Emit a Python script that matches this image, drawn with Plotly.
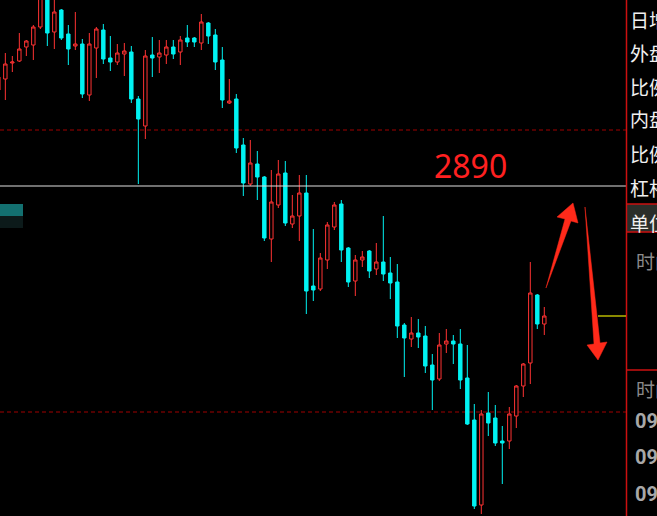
import plotly.graph_objects as go

# ---------------- data (prices) ----------------
candle_index = list(range(79))
open_ = [2909.2, 2911.4, 2914.6, 2915.0, 2917.8, 2918.2, 2921.8, 2929.6, 2920.8, 2925.2,
         2920.4, 2918.0, 2918.4, 2908.2, 2917.6, 2921.2, 2915.6, 2914.8, 2916.4, 2916.8,
         2907.4, 2902.0, 2916.2, 2915.8, 2916.2, 2917.8, 2916.8, 2919.6, 2919.6, 2918.6,
         2922.6, 2920.2, 2915.2, 2906.6, 2907.4, 2898.2, 2890.4, 2894.4, 2891.8, 2879.4,
         2886.2, 2892.6, 2882.4, 2884.0, 2888.6, 2870.0, 2869.4, 2875.2, 2881.8, 2886.4,
         2877.6, 2871.0, 2875.2, 2877.0, 2873.4, 2874.8, 2872.6, 2870.8, 2862.2, 2859.4,
         2860.6, 2860.0, 2854.2, 2851.4, 2858.4, 2859.0, 2858.4, 2851.6, 2843.2, 2826.2,
         2844.6, 2843.6, 2839.0, 2839.0, 2844.0, 2850.0, 2854.6, 2868.2, 2862.4]
high_ = [2913.2, 2916.6, 2916.0, 2920.6, 2919.2, 2922.2, 2931.2, 2930.8, 2928.2, 2925.4,
         2922.2, 2924.8, 2919.4, 2920.6, 2921.8, 2922.4, 2920.0, 2918.4, 2918.6, 2918.0,
         2908.0, 2917.2, 2919.8, 2919.2, 2919.2, 2919.2, 2920.0, 2922.2, 2919.8, 2924.4,
         2922.8, 2921.4, 2917.8, 2911.4, 2908.4, 2899.6, 2899.2, 2897.0, 2892.0, 2893.2,
         2895.2, 2895.0, 2888.2, 2892.2, 2892.2, 2881.4, 2876.6, 2882.8, 2886.8, 2887.2,
         2877.8, 2876.2, 2877.0, 2877.2, 2878.6, 2884.0, 2875.8, 2874.4, 2862.6, 2863.8,
         2863.4, 2862.0, 2856.4, 2860.6, 2861.4, 2860.2, 2861.4, 2858.2, 2846.4, 2845.2,
         2848.8, 2846.2, 2842.0, 2845.8, 2850.2, 2854.6, 2874.8, 2868.4, 2865.8]
low_ = [2908.2, 2907.2, 2912.8, 2914.8, 2916.0, 2915.2, 2921.4, 2918.0, 2917.4, 2919.2,
        2914.2, 2917.2, 2907.6, 2907.0, 2911.6, 2914.4, 2913.0, 2914.2, 2912.0, 2906.6,
        2890.4, 2899.4, 2911.8, 2912.6, 2914.4, 2915.4, 2914.2, 2917.8, 2917.8, 2917.2,
        2918.4, 2913.2, 2905.6, 2906.4, 2896.6, 2888.0, 2890.0, 2887.2, 2879.0, 2874.8,
        2885.6, 2882.0, 2881.6, 2879.0, 2864.4, 2867.0, 2869.0, 2873.4, 2881.2, 2874.8,
        2869.8, 2868.0, 2873.8, 2871.6, 2872.2, 2871.0, 2867.4, 2859.6, 2851.8, 2857.8,
        2857.6, 2852.6, 2845.2, 2851.0, 2856.6, 2854.4, 2849.4, 2842.2, 2825.4, 2824.4,
        2840.0, 2838.0, 2830.4, 2837.4, 2841.6, 2847.8, 2850.4, 2861.4, 2860.2]
close_ = [2911.8, 2914.4, 2914.8, 2917.4, 2919.0, 2921.8, 2930.2, 2920.6, 2924.8, 2919.6,
          2917.4, 2918.4, 2908.4, 2918.4, 2921.4, 2915.4, 2914.8, 2916.6, 2917.0, 2907.4,
          2903.4, 2916.0, 2915.6, 2916.6, 2917.8, 2916.4, 2919.2, 2918.8, 2918.8, 2922.8,
          2920.0, 2914.8, 2907.2, 2907.0, 2897.6, 2890.6, 2894.6, 2891.8, 2879.6, 2886.8,
          2892.4, 2882.6, 2884.0, 2888.6, 2869.0, 2869.2, 2875.6, 2882.2, 2886.2, 2877.2,
          2870.8, 2875.2, 2875.8, 2873.0, 2874.8, 2872.4, 2870.6, 2862.0, 2859.6, 2860.6,
          2859.8, 2854.0, 2851.2, 2858.2, 2859.0, 2858.4, 2851.2, 2842.4, 2826.0, 2844.4,
          2842.6, 2838.6, 2838.6, 2844.4, 2850.0, 2854.4, 2868.6, 2862.4, 2864.0]

level_price = 2890
dashed_levels = [2901.2, 2844.8]
panel_labels = ["日增", "外盘", "比例", "内盘", "比例", "杠杆"]
unit_label = "单位"
time_label = "时间"
time_rows = ["09:00", "09:00", "09:00"]

# ---------------- figure ----------------
W, H = 657, 516
PW = 626  # width of the candle area in px


def X(px):
    return px / W


def Y(py):
    return 1 - py / H


fig = go.Figure()
fig.add_trace(go.Candlestick(
    x=candle_index, open=open_, high=high_, low=low_, close=close_,
    increasing=dict(line=dict(color="#ff3333", width=1), fillcolor="#000000"),
    decreasing=dict(line=dict(color="#00f2f2", width=1), fillcolor="#00f2f2"),
    whiskerwidth=0, hoverinfo="skip", showlegend=False,
))

shapes = []
# dashed dark-red levels
for lv in dashed_levels:
    shapes.append(dict(type="line", xref="paper", yref="y", x0=0, x1=X(PW), y0=lv, y1=lv,
                       line=dict(color="#a00000", width=1, dash="4px,3px"), layer="below"))
# white level line
shapes.append(dict(type="line", xref="paper", yref="y", x0=0, x1=X(PW), y0=level_price, y1=level_price,
                   line=dict(color="#e0e0e0", width=1.2)))
# right panel
shapes.append(dict(type="rect", xref="paper", yref="paper", x0=X(626.5), x1=1.01, y0=Y(232), y1=Y(204),
                   fillcolor="#2a2e2a", line=dict(width=0)))
shapes.append(dict(type="line", xref="paper", yref="paper", x0=X(626.5), x1=X(626.5), y0=0, y1=1,
                   line=dict(color="#cc1010", width=1.5)))
for py in [204, 232, 370]:
    shapes.append(dict(type="line", xref="paper", yref="paper", x0=X(626.5), x1=1.01, y0=Y(py), y1=Y(py),
                       line=dict(color="#cc1010", width=1.5)))
# yellow line
shapes.append(dict(type="line", xref="paper", yref="paper", x0=X(598), x1=X(626), y0=Y(316), y1=Y(316),
                   line=dict(color="#e6e600", width=1.2)))
# teal remnant at left
shapes.append(dict(type="rect", xref="paper", yref="paper", x0=0, x1=X(23), y0=Y(216), y1=Y(204),
                   fillcolor="#137070", line=dict(width=0)))
shapes.append(dict(type="rect", xref="paper", yref="paper", x0=0, x1=X(23), y0=Y(228), y1=Y(216),
                   fillcolor="#0c1a1a", line=dict(width=0)))


def poly(points):
    return "M " + " L ".join(f"{X(a):.5f},{Y(b):.5f}" for a, b in points) + " Z"


# hand-drawn red arrows
arrow_up = [(546, 288), (565, 219), (557, 217), (573, 203), (578, 223), (571, 221)]
arrow_down = [(585, 207), (594, 344), (587, 345), (598, 360), (607, 342), (600, 343)]
for pts in (arrow_up, arrow_down):
    shapes.append(dict(type="path", xref="paper", yref="paper", path=poly(pts),
                       fillcolor="#ff2a1a", line=dict(color="#ff2a1a", width=0.5)))

annotations = [dict(text=str(level_price), xref="paper", yref="paper", x=X(470), y=Y(165),
                    xanchor="center", yanchor="middle", showarrow=False,
                    font=dict(family="Noto Sans", size=32, color="#ff2020"))]
label_y = [20, 53, 87, 119, 153, 187]
for lab, py in zip(panel_labels, label_y):
    annotations.append(dict(text=lab, xref="paper", yref="paper", x=X(628), y=Y(py),
                            xanchor="left", yanchor="middle", showarrow=False,
                            font=dict(family="Noto Sans CJK SC", size=19, color="#f0f0f0")))
annotations.append(dict(text=unit_label, xref="paper", yref="paper", x=X(628), y=Y(222),
                        xanchor="left", yanchor="middle", showarrow=False,
                        font=dict(family="Noto Sans CJK SC", size=19, color="#f0f0f0")))
for py in [260, 388]:
    annotations.append(dict(text=time_label, xref="paper", yref="paper", x=X(634), y=Y(py),
                            xanchor="left", yanchor="middle", showarrow=False,
                            font=dict(family="Noto Sans CJK SC", size=19, color="#8a8a8a")))
for lab, py in zip(time_rows, [421, 457, 494]):
    annotations.append(dict(text=f"<b>{lab}</b>", xref="paper", yref="paper", x=X(633), y=Y(py),
                            xanchor="left", yanchor="middle", showarrow=False,
                            font=dict(family="Roboto", size=20, color="#a8a8a8")))

fig.update_layout(
    width=W, height=H, margin=dict(l=0, r=0, t=0, b=0, pad=0),
    paper_bgcolor="#000000", plot_bgcolor="#000000",
    xaxis=dict(range=[0.2386, 89.67], domain=[0, X(PW)], visible=False,
               rangeslider=dict(visible=False), fixedrange=True),
    yaxis=dict(range=[2824.0, 2927.2], visible=False, fixedrange=True),
    shapes=shapes, annotations=annotations, showlegend=False, hovermode=False,
)

fig.write_html("out.html", config={"displayModeBar": False},
               post_script="document.body.style.margin='0';document.body.style.overflow='hidden';")
